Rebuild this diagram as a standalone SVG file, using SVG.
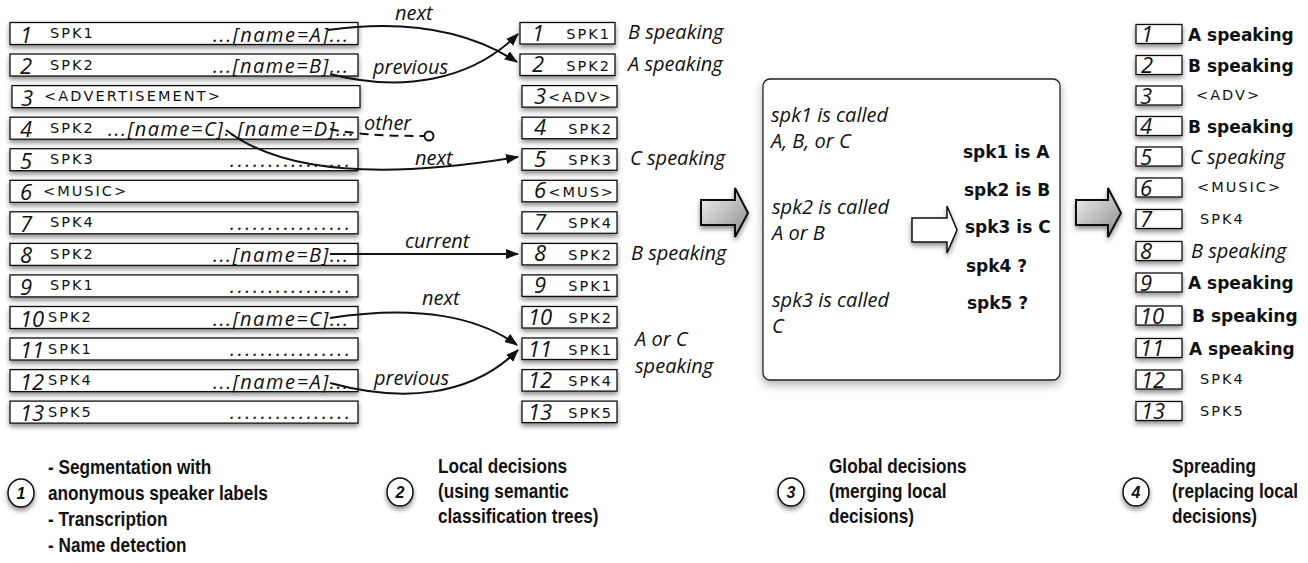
<svg xmlns="http://www.w3.org/2000/svg" width="1308" height="563" viewBox="0 0 1308 563">
<defs>
<style>
.bx{fill:#fff;stroke:#111;stroke-width:1.3}
.num{font-family:"Open Sans","DejaVu Sans",sans-serif;font-style:italic;font-size:22px;fill:#111}
.sc{font-family:"DejaVu Sans",sans-serif;font-size:14.5px;letter-spacing:2px;fill:#111}
.it{font-family:"Open Sans","DejaVu Sans",sans-serif;font-style:italic;font-size:20px;fill:#111}
.nm{font-family:"Open Sans","DejaVu Sans",sans-serif;font-style:italic;font-size:20px;fill:#111}
.bd{font-family:"DejaVu Sans",sans-serif;font-weight:bold;font-size:17px;fill:#111}
.cap{font-family:"Liberation Sans",Arial,sans-serif;font-weight:bold;font-size:20px;fill:#111}
.cn{font-family:"Liberation Sans",Arial,sans-serif;font-weight:bold;font-style:italic;font-size:16px;fill:#111}
.ln{fill:none;stroke:#111;stroke-width:2}
</style>
<filter id="sh" x="-20%" y="-40%" width="140%" height="200%">
<feDropShadow dx="0" dy="3" stdDeviation="2.5" flood-color="#000" flood-opacity="0.45"/>
</filter>
<filter id="sh2" x="-10%" y="-10%" width="120%" height="125%">
<feDropShadow dx="0" dy="4" stdDeviation="5" flood-color="#000" flood-opacity="0.3"/>
</filter>
<linearGradient id="gg" x1="0" y1="0" x2="1" y2="1">
<stop offset="0" stop-color="#f4f4f4"/>
<stop offset="1" stop-color="#8c8c8c"/>
</linearGradient>
<marker id="ah" viewBox="0 0 13 10" refX="12" refY="5" markerWidth="13" markerHeight="10" markerUnits="userSpaceOnUse" orient="auto">
<path d="M0,0 L13,5 L0,10 z" fill="#111"/>
</marker>
</defs>
<rect width="1308" height="563" fill="#fff"/>

<!-- Left column: segments -->
<g id="seg1" transform="translate(0,22.5)"><rect class="bx" x="10" y="0" width="348" height="22" filter="url(#sh)"/><text class="num" x="20" y="20">1</text><text class="sc" x="50" y="15.5">SPK1</text><text class="nm" x="213" y="19" textLength="135" lengthAdjust="spacing">...[name=A]...</text></g>
<g id="seg2" transform="translate(0,54)"><rect class="bx" x="10" y="0" width="348" height="22" filter="url(#sh)"/><text class="num" x="20" y="20">2</text><text class="sc" x="50" y="15.5">SPK2</text><text class="nm" x="213" y="19" textLength="135" lengthAdjust="spacing">...[name=B]...</text></g>
<g id="seg3" transform="translate(0,85.6)"><rect class="bx" x="12" y="0" width="348" height="22" filter="url(#sh)"/><text class="num" x="21" y="20">3</text><text class="sc" x="44" y="15.5" textLength="178" lengthAdjust="spacing">&lt;ADVERTISEMENT&gt;</text></g>
<g id="seg4" transform="translate(0,117.2)"><rect class="bx" x="10" y="0" width="348" height="22" filter="url(#sh)"/><text class="num" x="20" y="20">4</text><text class="sc" x="50" y="15.5">SPK2</text><text class="nm" x="108" y="19" textLength="246" lengthAdjust="spacing">...[name=C]..[name=D]...</text></g>
<g id="seg5" transform="translate(0,148.7)"><rect class="bx" x="10" y="0" width="348" height="22" filter="url(#sh)"/><text class="num" x="20" y="20">5</text><text class="sc" x="50" y="15.5">SPK3</text><text class="nm" x="230" y="18" textLength="120" lengthAdjust="spacing">................</text></g>
<g id="seg6" transform="translate(0,180.3)"><rect class="bx" x="10" y="0" width="348" height="22" filter="url(#sh)"/><text class="num" x="20" y="20">6</text><text class="sc" x="43" y="15.5">&lt;MUSIC&gt;</text></g>
<g id="seg7" transform="translate(0,211.8)"><rect class="bx" x="10" y="0" width="348" height="22" filter="url(#sh)"/><text class="num" x="20" y="20">7</text><text class="sc" x="50" y="15.5">SPK4</text><text class="nm" x="230" y="18" textLength="120" lengthAdjust="spacing">................</text></g>
<g id="seg8" transform="translate(0,243.4)"><rect class="bx" x="10" y="0" width="348" height="22" filter="url(#sh)"/><text class="num" x="20" y="20">8</text><text class="sc" x="50" y="15.5">SPK2</text><text class="nm" x="213" y="19" textLength="135" lengthAdjust="spacing">...[name=B]...</text></g>
<g id="seg9" transform="translate(0,274.9)"><rect class="bx" x="10" y="0" width="348" height="22" filter="url(#sh)"/><text class="num" x="20" y="20">9</text><text class="sc" x="50" y="15.5">SPK1</text><text class="nm" x="230" y="18" textLength="120" lengthAdjust="spacing">................</text></g>
<g id="seg10" transform="translate(0,306.5)"><rect class="bx" x="10" y="0" width="348" height="22" filter="url(#sh)"/><text class="num" x="20" y="20">10</text><text class="sc" x="48" y="15.5">SPK2</text><text class="nm" x="213" y="19" textLength="135" lengthAdjust="spacing">...[name=C]...</text></g>
<g id="seg11" transform="translate(0,338)"><rect class="bx" x="10" y="0" width="348" height="22" filter="url(#sh)"/><text class="num" x="20" y="20">11</text><text class="sc" x="48" y="15.5">SPK1</text><text class="nm" x="230" y="18" textLength="120" lengthAdjust="spacing">................</text></g>
<g id="seg12" transform="translate(0,369.6)"><rect class="bx" x="10" y="0" width="348" height="22" filter="url(#sh)"/><text class="num" x="20" y="20">12</text><text class="sc" x="48" y="15.5">SPK4</text><text class="nm" x="213" y="19" textLength="135" lengthAdjust="spacing">...[name=A]...</text></g>
<g id="seg13" transform="translate(0,401.1)"><rect class="bx" x="10" y="0" width="348" height="22" filter="url(#sh)"/><text class="num" x="20" y="20">13</text><text class="sc" x="48" y="15.5">SPK5</text><text class="nm" x="230" y="18" textLength="120" lengthAdjust="spacing">................</text></g>

<!-- Middle column: local decisions -->
<g id="loc1" transform="translate(0,22.5)"><rect class="bx" x="520" y="0" width="95" height="21.5" filter="url(#sh)"/><text class="num" x="538" y="18" text-anchor="middle">1</text><text class="sc" x="611" y="16.5" text-anchor="end">SPK1</text><text class="it" x="628" y="16.5">B speaking</text></g>
<g id="loc2" transform="translate(0,54)"><rect class="bx" x="520" y="0" width="95" height="21.5" filter="url(#sh)"/><text class="num" x="538" y="18" text-anchor="middle">2</text><text class="sc" x="611" y="16.5" text-anchor="end">SPK2</text><text class="it" x="628" y="16.5">A speaking</text></g>
<g id="loc3" transform="translate(0,85.6)"><rect class="bx" x="522" y="0" width="95" height="21.5" filter="url(#sh)"/><text class="num" x="540" y="18" text-anchor="middle">3</text><text class="sc" x="613" y="16.5" text-anchor="end" letter-spacing="1.2">&lt;ADV&gt;</text></g>
<g id="loc4" transform="translate(0,117.2)"><rect class="bx" x="522" y="0" width="95" height="21.5" filter="url(#sh)"/><text class="num" x="540" y="18" text-anchor="middle">4</text><text class="sc" x="613" y="16.5" text-anchor="end">SPK2</text></g>
<g id="loc5" transform="translate(0,148.7)"><rect class="bx" x="522" y="0" width="95" height="21.5" filter="url(#sh)"/><text class="num" x="540" y="18" text-anchor="middle">5</text><text class="sc" x="613" y="16.5" text-anchor="end">SPK3</text><text class="it" x="630" y="16.5">C speaking</text></g>
<g id="loc6" transform="translate(0,180.3)"><rect class="bx" x="522" y="0" width="95" height="21.5" filter="url(#sh)"/><text class="num" x="540" y="18" text-anchor="middle">6</text><text class="sc" x="615" y="16.5" text-anchor="end" letter-spacing="0.6">&lt;MUS&gt;</text></g>
<g id="loc7" transform="translate(0,211.8)"><rect class="bx" x="522" y="0" width="95" height="21.5" filter="url(#sh)"/><text class="num" x="540" y="18" text-anchor="middle">7</text><text class="sc" x="613" y="16.5" text-anchor="end">SPK4</text></g>
<g id="loc8" transform="translate(0,243.4)"><rect class="bx" x="522" y="0" width="95" height="21.5" filter="url(#sh)"/><text class="num" x="540" y="18" text-anchor="middle">8</text><text class="sc" x="613" y="16.5" text-anchor="end">SPK2</text><text class="it" x="631" y="16.5">B speaking</text></g>
<g id="loc9" transform="translate(0,274.9)"><rect class="bx" x="522" y="0" width="95" height="21.5" filter="url(#sh)"/><text class="num" x="540" y="18" text-anchor="middle">9</text><text class="sc" x="613" y="16.5" text-anchor="end">SPK1</text></g>
<g id="loc10" transform="translate(0,306.5)"><rect class="bx" x="522" y="0" width="95" height="21.5" filter="url(#sh)"/><text class="num" x="540" y="18.5" text-anchor="middle">10</text><text class="sc" x="613" y="16.5" text-anchor="end">SPK2</text></g>
<g id="loc11" transform="translate(0,338)"><rect class="bx" x="522" y="0" width="95" height="21.5" filter="url(#sh)"/><text class="num" x="540" y="18.5" text-anchor="middle">11</text><text class="sc" x="613" y="16.5" text-anchor="end">SPK1</text><text class="it" x="635" y="8">A or C</text><text class="it" x="635" y="35">speaking</text></g>
<g id="loc12" transform="translate(0,369.6)"><rect class="bx" x="522" y="0" width="95" height="21.5" filter="url(#sh)"/><text class="num" x="540" y="18.5" text-anchor="middle">12</text><text class="sc" x="613" y="16.5" text-anchor="end">SPK4</text></g>
<g id="loc13" transform="translate(0,401.1)"><rect class="bx" x="522" y="0" width="95" height="21.5" filter="url(#sh)"/><text class="num" x="540" y="18.5" text-anchor="middle">13</text><text class="sc" x="613" y="16.5" text-anchor="end">SPK5</text></g>

<!-- Connectors -->
<g id="connectors">
<path class="ln" d="M328,30 C400,20 465,28 517,62" marker-end="url(#ah)"/>
<path class="ln" d="M330,74 C400,92 470,82 518,34" marker-end="url(#ah)"/>
<path class="ln" d="M330,129 Q360,136 424,136" stroke-dasharray="9,6"/>
<circle cx="429" cy="136" r="4.5" fill="#fff" stroke="#111" stroke-width="2"/>
<path class="ln" d="M226,130 C280,172 380,180 518,157" marker-end="url(#ah)"/>
<path class="ln" d="M330,254 L518,254" marker-end="url(#ah)"/>
<path class="ln" d="M330,318 C420,304 480,318 517,345" marker-end="url(#ah)"/>
<path class="ln" d="M330,383 C400,402 470,398 518,350" marker-end="url(#ah)"/>
<text class="it" x="395" y="20">next</text>
<text class="it" x="373" y="74">previous</text>
<text class="it" x="364" y="130">other</text>
<text class="it" x="415" y="165">next</text>
<text class="it" x="405" y="248">current</text>
<text class="it" x="422" y="305">next</text>
<text class="it" x="374" y="385">previous</text>
</g>

<!-- Big arrows -->
<g id="arrow1"><path d="M701,200 L735,200 L735,188 L748,213 L735,237 L735,225 L701,225 Z" fill="url(#gg)" stroke="#111" stroke-width="2" filter="url(#sh)"/></g>
<g id="arrow3"><path d="M1076,200 L1108,200 L1108,188 L1121,213 L1108,237 L1108,225 L1076,225 Z" fill="url(#gg)" stroke="#111" stroke-width="2" filter="url(#sh)"/></g>

<!-- Global decisions box -->
<g id="global">
<rect x="763" y="79" width="297" height="301" rx="7" fill="#fff" stroke="#222" stroke-width="1.3" filter="url(#sh2)"/>
<text class="it" x="771" y="122">spk1 is called</text>
<text class="it" x="771" y="148">A, B, or C</text>
<text class="it" x="772" y="214">spk2 is called</text>
<text class="it" x="772" y="240">A or B</text>
<text class="it" x="772" y="307">spk3 is called</text>
<text class="it" x="772" y="333">C</text>
<path d="M912,218 L947,218 L947,206 L957,230 L947,253 L947,242 L912,242 Z" fill="#fff" stroke="#111" stroke-width="1.5" filter="url(#sh)"/>
<text class="bd" x="963" y="158">spk1 is A</text>
<text class="bd" x="964" y="196">spk2 is B</text>
<text class="bd" x="965" y="233">spk3 is C</text>
<text class="bd" x="966" y="272">spk4 ?</text>
<text class="bd" x="967" y="309">spk5 ?</text>
</g>

<!-- Right column: spreading -->
<g id="spr1" transform="translate(0,24.5)"><rect class="bx" x="1136" y="0" width="46" height="19" filter="url(#sh)"/><text class="num" x="1141" y="17.5">1</text><text class="bd" x="1188" y="16">A speaking</text></g>
<g id="spr2" transform="translate(0,55.5)"><rect class="bx" x="1136" y="0" width="46" height="19" filter="url(#sh)"/><text class="num" x="1141" y="17.5">2</text><text class="bd" x="1188" y="16">B speaking</text></g>
<g id="spr3" transform="translate(0,86)"><rect class="bx" x="1136" y="0" width="46" height="19" filter="url(#sh)"/><text class="num" x="1140" y="17.5">3</text><text class="sc" x="1196" y="14" font-size="12" letter-spacing="1.2">&lt;ADV&gt;</text></g>
<g id="spr4" transform="translate(0,116.5)"><rect class="bx" x="1136" y="0" width="46" height="19" filter="url(#sh)"/><text class="num" x="1140" y="17.5">4</text><text class="bd" x="1188" y="16">B speaking</text></g>
<g id="spr5" transform="translate(0,147)"><rect class="bx" x="1136" y="0" width="46" height="19" filter="url(#sh)"/><text class="num" x="1140" y="17.5">5</text><text class="it" x="1190" y="16.5">C speaking</text></g>
<g id="spr6" transform="translate(0,178)"><rect class="bx" x="1136" y="0" width="46" height="19" filter="url(#sh)"/><text class="num" x="1140" y="17.5">6</text><text class="sc" x="1197" y="14" font-size="12" letter-spacing="1.4">&lt;MUSIC&gt;</text></g>
<g id="spr7" transform="translate(0,209.5)"><rect class="bx" x="1136" y="0" width="46" height="19" filter="url(#sh)"/><text class="num" x="1140" y="17.5">7</text><text class="sc" x="1200" y="14" font-size="13">SPK4</text></g>
<g id="spr8" transform="translate(0,241.5)"><rect class="bx" x="1136" y="0" width="46" height="19" filter="url(#sh)"/><text class="num" x="1140" y="17.5">8</text><text class="it" x="1191" y="16.5">B speaking</text></g>
<g id="spr9" transform="translate(0,273)"><rect class="bx" x="1136" y="0" width="46" height="19" filter="url(#sh)"/><text class="num" x="1140" y="17.5">9</text><text class="bd" x="1188" y="16">A speaking</text></g>
<g id="spr10" transform="translate(0,306)"><rect class="bx" x="1136" y="0" width="46" height="19" filter="url(#sh)"/><text class="num" x="1140" y="17.5">10</text><text class="bd" x="1192" y="16">B speaking</text></g>
<g id="spr11" transform="translate(0,338.5)"><rect class="bx" x="1136" y="0" width="46" height="19" filter="url(#sh)"/><text class="num" x="1140" y="17.5">11</text><text class="bd" x="1189" y="16">A speaking</text></g>
<g id="spr12" transform="translate(0,370)"><rect class="bx" x="1136" y="0" width="46" height="19" filter="url(#sh)"/><text class="num" x="1141" y="17.5">12</text><text class="sc" x="1200" y="14" font-size="13">SPK4</text></g>
<g id="spr13" transform="translate(0,401.5)"><rect class="bx" x="1136" y="0" width="46" height="19" filter="url(#sh)"/><text class="num" x="1141" y="17.5">13</text><text class="sc" x="1200" y="14" font-size="13">SPK5</text></g>

<!-- Step captions -->
<g id="step1">
<ellipse cx="21" cy="493" rx="13" ry="14" fill="#fff" stroke="#111" stroke-width="1.5" filter="url(#sh)"/>
<text class="cn" x="21" y="499" text-anchor="middle">1</text>
<g transform="translate(48,0) scale(0.86,1)">
<text class="cap" x="0" y="474">- Segmentation with</text>
<text class="cap" x="0" y="500">anonymous speaker labels</text>
<text class="cap" x="0" y="526">- Transcription</text>
<text class="cap" x="0" y="552">- Name detection</text>
</g>
</g>
<g id="step2">
<ellipse cx="400" cy="492" rx="13" ry="14" fill="#fff" stroke="#111" stroke-width="1.5" filter="url(#sh)"/>
<text class="cn" x="400" y="498" text-anchor="middle">2</text>
<g transform="translate(438,0) scale(0.86,1)">
<text class="cap" x="0" y="473">Local decisions</text>
<text class="cap" x="0" y="498">(using semantic</text>
<text class="cap" x="0" y="523">classification trees)</text>
</g>
</g>
<g id="step3">
<ellipse cx="791" cy="492" rx="13" ry="14" fill="#fff" stroke="#111" stroke-width="1.5" filter="url(#sh)"/>
<text class="cn" x="791" y="498" text-anchor="middle">3</text>
<g transform="translate(829,0) scale(0.86,1)">
<text class="cap" x="0" y="473">Global decisions</text>
<text class="cap" x="0" y="498">(merging local</text>
<text class="cap" x="0" y="523">decisions)</text>
</g>
</g>
<g id="step4">
<ellipse cx="1136" cy="492" rx="13" ry="14" fill="#fff" stroke="#111" stroke-width="1.5" filter="url(#sh)"/>
<text class="cn" x="1136" y="498" text-anchor="middle">4</text>
<g transform="translate(1172,0) scale(0.86,1)">
<text class="cap" x="0" y="473">Spreading</text>
<text class="cap" x="0" y="498">(replacing local</text>
<text class="cap" x="0" y="523">decisions)</text>
</g>
</g>
</svg>
